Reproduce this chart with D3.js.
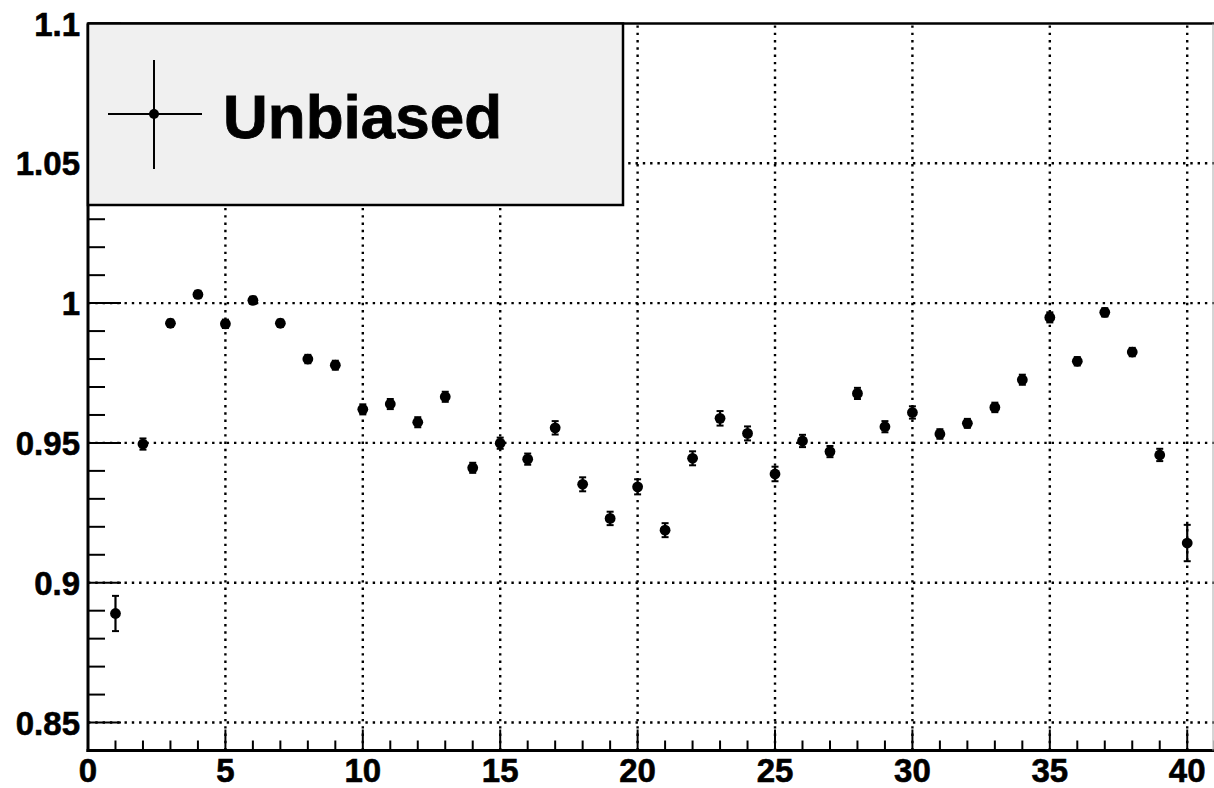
<!DOCTYPE html>
<html><head><meta charset="utf-8">
<script src="https://cdn.jsdelivr.net/npm/d3@7"></script>
<style>html,body{margin:0;padding:0;background:#fff;}svg{display:block;}</style>
</head><body>
<svg id="c" width="1214" height="788"></svg>
<script>
const bins = d3.range(1, 41);
const values = [0.889,0.9496,0.9928,1.0031,0.9926,1.0010,0.9928,0.9800,0.9778,0.9620,
  0.9639,0.9574,0.9665,0.9411,0.9499,0.9442,0.9554,0.9352,0.9230,0.9343,
  0.9188,0.9445,0.9588,0.9534,0.9389,0.9507,0.9469,0.9677,0.9558,0.9609,
  0.9532,0.9570,0.9627,0.9726,0.9949,0.9792,0.9967,0.9825,0.9457,0.9142];
const errors = [0.0063,0.0020,0.0013,0.0013,0.0015,0.0013,0.0013,0.0015,0.0016,0.0018,
  0.0018,0.0018,0.0018,0.0018,0.0020,0.0020,0.0024,0.0025,0.0024,0.0027,
  0.0025,0.0025,0.0026,0.0025,0.0026,0.0022,0.0020,0.0020,0.0020,0.0022,
  0.0017,0.0016,0.0017,0.0018,0.0018,0.0015,0.0015,0.0015,0.0022,0.0065];
const xTicks = [0,5,10,15,20,25,30,35,40];
const yTicks = [0.85,0.9,0.95,1.0,1.05,1.1];
const yTickLabels = ["0.85","0.9","0.95","1","1.05","1.1"];
const legendLabel = "Unbiased";

const svg = d3.select("#c");
const x = d3.scaleLinear().domain([0, 41]).range([88, 1214.7]);
const y = d3.scaleLinear().domain([0.84, 1.1]).range([750.5, 23.5]);
const font = "'Liberation Sans', Arial, Helvetica, sans-serif";

// grid
const grid = svg.append("g").attr("stroke", "#000").attr("stroke-width", 2.4).attr("stroke-dasharray", "2.4,4.9");
grid.selectAll("line.v").data(xTicks.filter(d => d > 0)).join("line")
  .attr("x1", d => x(d)).attr("x2", d => x(d)).attr("y1", y(0.84)).attr("y2", y(1.1));
grid.selectAll("line.h").data(yTicks.filter(d => d < 1.1)).join("line")
  .attr("y1", d => y(d)).attr("y2", d => y(d)).attr("x1", x(0)).attr("x2", x(41));

// minor ticks
const xMinor = d3.range(0, 42, 1).filter(d => d % 5 !== 0);
svg.append("g").selectAll("line").data(xMinor).join("line")
  .attr("x1", d => x(d)).attr("x2", d => x(d)).attr("y1", y(0.84)).attr("y2", y(0.84) - 10)
  .attr("stroke", "#000").attr("stroke-width", 2);
svg.append("g").selectAll("line").data(xTicks).join("line")
  .attr("x1", d => x(d)).attr("x2", d => x(d)).attr("y1", y(0.84)).attr("y2", y(0.84) - 21)
  .attr("stroke", "#000").attr("stroke-width", 2);
const yMinor = d3.range(0, 27).map(i => +(0.84 + i * 0.01).toFixed(2)).filter(d => Math.round(d * 100) % 5 !== 0);
svg.append("g").selectAll("line").data(yMinor).join("line")
  .attr("y1", d => y(d)).attr("y2", d => y(d)).attr("x1", x(0)).attr("x2", x(0) + 17)
  .attr("stroke", "#000").attr("stroke-width", 2);
svg.append("g").selectAll("line").data(yTicks).join("line")
  .attr("y1", d => y(d)).attr("y2", d => y(d)).attr("x1", x(0)).attr("x2", x(0) + 33)
  .attr("stroke", "#000").attr("stroke-width", 2);

// frame
svg.append("line").attr("x1", x(0)).attr("x2", x(0)).attr("y1", y(1.1)).attr("y2", y(0.84)+1.5).attr("stroke", "#000").attr("stroke-width", 3);
svg.append("line").attr("x1", x(0)-1.5).attr("x2", 1214).attr("y1", y(0.84)).attr("y2", y(0.84)).attr("stroke", "#000").attr("stroke-width", 3);
svg.append("line").attr("x1", x(0)).attr("x2", 1214).attr("y1", y(1.1)).attr("y2", y(1.1)).attr("stroke", "#000").attr("stroke-width", 2.5);
svg.append("line").attr("x1", 1213).attr("x2", 1213).attr("y1", y(1.1)).attr("y2", y(0.84)).attr("stroke", "#aaa").attr("stroke-width", 1);

// tick labels
svg.append("g").selectAll("text").data(xTicks).join("text")
  .attr("x", d => x(d)).attr("y", 782).attr("text-anchor", "middle")
  .attr("font-family", font).attr("font-weight", "bold").attr("font-size", 33)
  .attr("stroke", "#000").attr("stroke-width", 0.6).text(d => d);
svg.append("g").selectAll("text").data(yTicks).join("text")
  .attr("x", 80).attr("y", d => y(d) + 12).attr("text-anchor", "end")
  .attr("font-family", font).attr("font-weight", "bold").attr("font-size", 33)
  .attr("stroke", "#000").attr("stroke-width", 0.6).text((d, i) => yTickLabels[i]);

// data
const pts = svg.append("g");
const data = bins.map((b, i) => ({b, v: values[i], e: errors[i]}));
pts.selectAll("line.err").data(data).join("line")
  .attr("x1", d => x(d.b)).attr("x2", d => x(d.b))
  .attr("y1", d => y(d.v - d.e)).attr("y2", d => y(d.v + d.e))
  .attr("stroke", "#000").attr("stroke-width", 2.2);
pts.selectAll("line.c1").data(data).join("line")
  .attr("x1", d => x(d.b) - 3.5).attr("x2", d => x(d.b) + 3.5)
  .attr("y1", d => y(d.v - d.e)).attr("y2", d => y(d.v - d.e))
  .attr("stroke", "#000").attr("stroke-width", 2);
pts.selectAll("line.c2").data(data).join("line")
  .attr("x1", d => x(d.b) - 3.5).attr("x2", d => x(d.b) + 3.5)
  .attr("y1", d => y(d.v + d.e)).attr("y2", d => y(d.v + d.e))
  .attr("stroke", "#000").attr("stroke-width", 2);
pts.selectAll("circle").data(data).join("circle")
  .attr("cx", d => x(d.b)).attr("cy", d => y(d.v)).attr("r", 5.4).attr("fill", "#000");

// legend
const lg = svg.append("g");
lg.append("rect").attr("x", x(0)).attr("y", y(1.1)).attr("width", 623 - x(0)).attr("height", 205 - y(1.1))
  .attr("fill", "#f0f0f0").attr("stroke", "#000").attr("stroke-width", 2.5);
lg.append("line").attr("x1", 108).attr("x2", 202).attr("y1", 114).attr("y2", 114).attr("stroke", "#000").attr("stroke-width", 2);
lg.append("line").attr("x1", 154).attr("x2", 154).attr("y1", 60).attr("y2", 169).attr("stroke", "#000").attr("stroke-width", 2);
lg.append("circle").attr("cx", 154).attr("cy", 114).attr("r", 5).attr("fill", "#000");
lg.append("text").attr("x", 223).attr("y", 138).attr("font-family", font).attr("font-weight", "bold")
  .attr("font-size", 62).attr("stroke", "#000").attr("stroke-width", 0.8).text(legendLabel);
</script>
</body></html>
